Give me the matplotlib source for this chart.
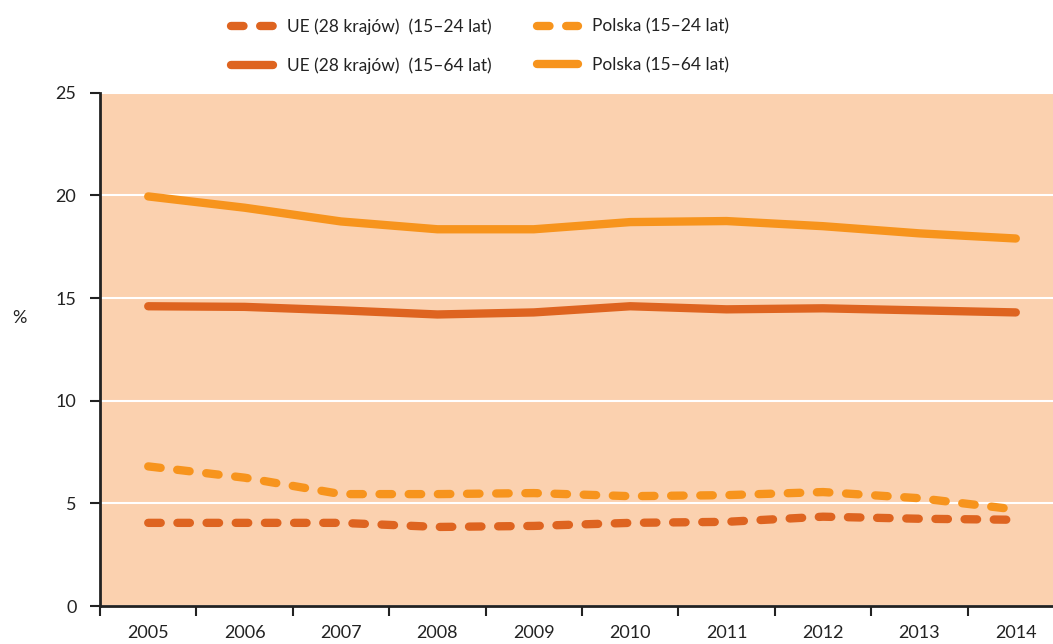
import numpy as np
import matplotlib.pyplot as plt
from matplotlib.ticker import FixedLocator

plt.rcParams['font.family'] = ['Lato', 'DejaVu Sans']

years = ['2005', '2006', '2007', '2008', '2009', '2010', '2011', '2012', '2013', '2014']
ue_15_24 = [4.05, 4.05, 4.05, 3.85, 3.9, 4.05, 4.1, 4.35, 4.25, 4.2]
pl_15_24 = [6.8, 6.25, 5.45, 5.45, 5.5, 5.35, 5.4, 5.55, 5.25, 4.7]
ue_15_64 = [14.6, 14.57, 14.4, 14.2, 14.3, 14.6, 14.45, 14.5, 14.4, 14.3]
pl_15_64 = [19.95, 19.4, 18.73, 18.35, 18.35, 18.7, 18.75, 18.5, 18.15, 17.9]

dark = '#DE6420'
light = '#F7941D'
bg = '#FBD1AF'

fig = plt.figure(figsize=(10.53, 6.44), dpi=100)
ax = fig.add_axes([0.095, 0.059, 0.905, 0.797])
ax.set_facecolor(bg)

x = np.arange(len(years))
lw = 6
dash = (1.5, 2.0)
l1, = ax.plot(x, ue_15_24, color=dark, lw=lw, linestyle=(0, dash),
              dash_capstyle='round', solid_capstyle='round')
l2, = ax.plot(x, ue_15_64, color=dark, lw=lw, solid_capstyle='round')
l3, = ax.plot(x, pl_15_24, color=light, lw=lw, linestyle=(0, dash),
              dash_capstyle='round', solid_capstyle='round')
l4, = ax.plot(x, pl_15_64, color=light, lw=lw, solid_capstyle='round')

ax.set_xlim(-0.5, 9.386)
ax.set_ylim(0, 25)
ax.set_yticks([0, 5, 10, 15, 20, 25])
ax.yaxis.grid(True, color='white', lw=1.5)
ax.set_axisbelow(True)

ax.xaxis.set_major_locator(FixedLocator(np.arange(-0.5, 10, 1)))
ax.xaxis.set_minor_locator(FixedLocator(x))
ax.set_xticklabels([])
ax.set_xticklabels(years, minor=True)
ax.tick_params(axis='x', which='major', length=7, width=1.5, color='#222222')
ax.tick_params(axis='x', which='minor', length=0, pad=14, labelsize=13, labelcolor='#222222')
ax.tick_params(axis='y', length=7, width=1.5, color='#222222', labelsize=13,
               labelcolor='#222222', pad=10)

for s in ['top', 'right']:
    ax.spines[s].set_visible(False)
for s in ['left', 'bottom']:
    ax.spines[s].set_color('#222222')
    ax.spines[s].set_linewidth(2)

fig.text(0.012, 0.506, '%', fontsize=13, color='#222222', ha='left', va='center')

fig.legend([l1, l2, l3, l4],
           ['UE (28 krajów)  (15–24 lat)', 'UE (28 krajów)  (15–64 lat)',
            'Polska (15–24 lat)', 'Polska (15–64 lat)'],
           loc='upper left', bbox_to_anchor=(0.205, 0.996), ncol=2, frameon=False,
           fontsize=12.5, labelcolor='#222222', handlelength=2.4, columnspacing=2.6,
           labelspacing=1.3, handletextpad=0.8)

fig.savefig('out.png', dpi=100)
